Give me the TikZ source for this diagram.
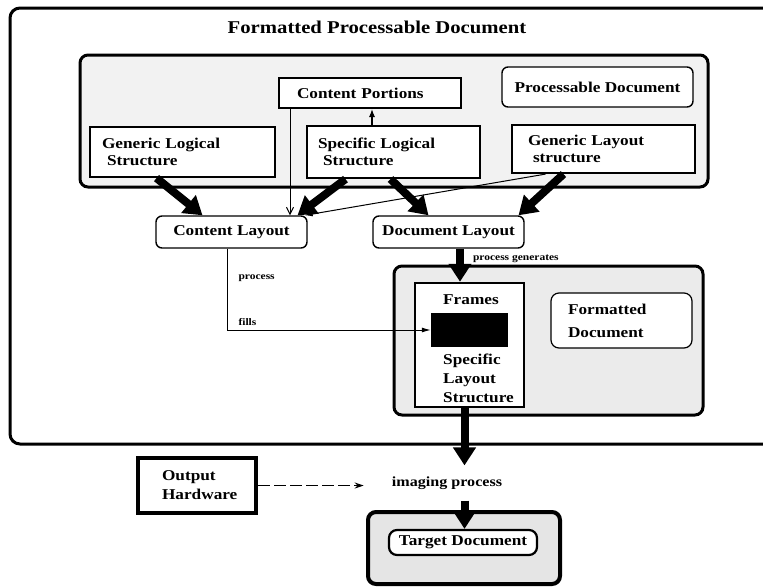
\documentclass[tikz,border=0pt]{standalone}
\usepackage{fontspec}
\setmainfont{Liberation Serif}[FakeStretch=1.15]
\usetikzlibrary{arrows.meta}

\tikzset{
  txt/.style={font=\bfseries\fontsize{15}{17}\selectfont},
  grp/.style={draw, line width=3pt, rounded corners=8pt, fill=black!5, inner sep=0pt},
  wbox/.style={draw, line width=2.2pt, fill=white, inner sep=0pt, txt},
  lbox/.style={wbox, align=left},
  rbox/.style={wbox, rounded corners=6pt, line width=1.4pt},
  big/.style={line width=8pt, -{Triangle[length=18pt,width=22pt]}},
  thinline/.style={line width=1pt},
  note/.style={font=\bfseries\fontsize{10}{12}\selectfont, inner sep=1pt},
}

\begin{document}
\begin{tikzpicture}[x=1pt,y=-1pt]
\useasboundingbox (0,0) rectangle (763,587);
\clip (0,0) rectangle (763,587);

% outer frame of the formatted processable document
\draw[line width=3pt, rounded corners=10pt] (800,8) -- (10,8) -- (10,444) -- (800,444);
\node[font=\bfseries\fontsize{18}{20}\selectfont] (title) at (377,27) {Formatted Processable Document};

% processable document group
\node[grp, minimum width=628pt, minimum height=132pt] (gp) at (394,121) {};
\node[lbox, line width=2pt, minimum height=30pt, text width=146pt, inner xsep=18pt] (cp) at (370,93) {Content Portions};
\node[rbox, minimum width=191pt, minimum height=40pt] (pd) at (597.5,87) {Processable Document};
\node[lbox, minimum height=50pt, text width=161pt, inner xsep=12pt] (gls) at (182.5,152) {Generic Logical\\\hspace*{5pt}Structure};
\node[lbox, minimum height=52pt, text width=151pt, inner xsep=11pt] (sls) at (393.5,152) {Specific Logical\\\hspace*{5pt}Structure};
\node[lbox, minimum height=48pt, text width=151pt, inner xsep=16pt] (gly) at (603.5,149) {Generic Layout\\\hspace*{5pt}structure};

% layout processes
\node[rbox, minimum width=151pt, minimum height=32pt] (cl) at (231.5,232) {Content Layout};
\node[rbox, minimum width=151pt, minimum height=32pt] (dl) at (448.5,232) {Document Layout};

% formatted document group
\node[grp, minimum width=309pt, minimum height=149pt, fill=black!8] (gf) at (548.5,340.5) {};
\node[wbox, line width=2.5pt, minimum width=109pt, minimum height=124pt] (slf) at (469.5,345) {};
\node[txt, anchor=west, inner sep=0pt] (frm) at (443,300) {Frames};
\node[fill=black, minimum width=77pt, minimum height=34pt, inner sep=0pt] (blk) at (469.5,330) {};
\node[txt, anchor=west, align=left, inner sep=0pt, font=\bfseries\fontsize{15}{19}\selectfont] (slt) at (443,378) {Specific\\Layout\\Structure};
\node[rbox, line width=1.2pt, rounded corners=8pt, align=left, minimum height=55pt, text width=107pt, inner xsep=17pt, font=\bfseries\fontsize{15}{23}\selectfont] (fd) at (621.5,320.5) {Formatted\\Document};

% imaging
\node[lbox, line width=4pt, minimum height=55pt, text width=70pt, inner xsep=24pt, font=\bfseries\fontsize{15}{19}\selectfont] (oh) at (197,485.5) {Output\\Hardware};
\node[font=\bfseries\fontsize{14}{16}\selectfont, inner xsep=2pt, inner ysep=11pt] (im) at (447,483) {imaging process};
\node[grp, line width=4pt, minimum width=192pt, minimum height=72pt, fill=black!10] (gt) at (464,548) {};
\node[rbox, line width=2.2pt, rounded corners=8pt, minimum width=148pt, minimum height=25pt] (td) at (463,542.5) {Target Document};

% thick flows
\draw[big] ([xshift=-26pt]gls.south) -- ([xshift=-29pt]cl.north);
\draw[big] ([xshift=-48pt]sls.south) -- ([xshift=66pt]cl.north);
\draw[big] ([xshift=-3pt]sls.south) -- ([xshift=-20pt]dl.north);
\draw[big] ([xshift=-40pt]gly.south) -- ([xshift=70pt]dl.north);
\draw[big] ([xshift=11.5pt]dl.south) -- node[note, pos=0.3, anchor=west, xshift=8pt] {process generates} ([xshift=11.5pt]dl.south |- slf.north);
\draw[big] ([xshift=17.5pt]im.north |- slf.south) -- ([xshift=17.5pt]im.north);
\draw[big] ([xshift=17.5pt]im.south) -- ([xshift=17.5pt]im.south |- td.north);

% thin references
\draw[thinline, -{Straight Barb[length=7pt,width=7pt]}] ([xshift=12pt]cp.south west) -- ([xshift=12pt]cp.south west |- cl.north);
\draw[line width=1.2pt, -{Latex[length=8pt,width=6pt]}] ([xshift=-21.5pt]sls.north) -- ([xshift=-21.5pt]sls.north |- cp.south);
\draw[thinline, -{Latex[length=8pt,width=5pt]}] ([xshift=-58pt]gly.south) -- ([xshift=-3pt]cl.north east);
\draw[thinline, -{Latex[length=9pt,width=5pt]}] ([xshift=-4.5pt]cl.south) |-
  node[note, pos=0.18, anchor=west, xshift=10pt] {process}
  node[note, pos=0.45, anchor=west, xshift=10pt] {fills} (blk.west);
\draw[line width=1.2pt, dash pattern=on 12pt off 4pt, -{Stealth[length=9pt,width=6pt]}, shorten >=26pt] (oh.east) -- (im.west |- oh.east);

\end{tikzpicture}
\end{document}
